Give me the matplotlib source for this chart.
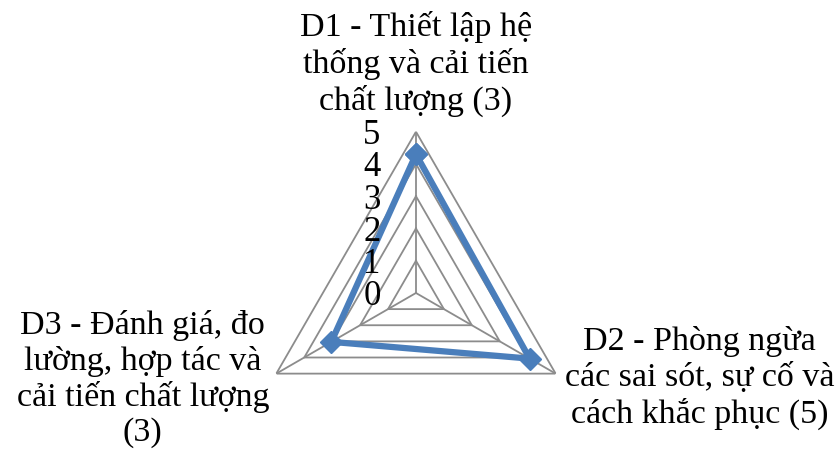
import numpy as np
import matplotlib
matplotlib.use("Agg")
import matplotlib.pyplot as plt
from matplotlib.transforms import offset_copy

plt.rcParams['font.family'] = ['Liberation Serif', 'DejaVu Serif']

# data
categories = ['D1 - Thiết lập hệ\nthống và cải tiến\nchất lượng (3)',
              'D2 - Phòng ngừa\ncác sai sót, sự cố và\ncách khắc phục (5)',
              'D3 - Đánh giá, đo\nlường, hợp tác và\ncải tiến chất lượng\n(3)']
values = [4.3, 4.07, 3.03]
ticks = [0, 1, 2, 3, 4, 5]

angles = np.deg2rad([0, 120, 240])

fig = plt.figure(figsize=(8.4, 4.56), dpi=100)
ax = fig.add_axes([0.3032, 0.0016, 0.384, 0.7074], projection='polar')
ax.set_theta_offset(np.pi / 2)
ax.set_theta_direction(-1)
ax.set_ylim(0, 5)
ax.grid(False)
ax.spines['polar'].set_visible(False)
ax.set_xticks([])
ax.set_yticks([])
ax.patch.set_alpha(0)

closed = np.append(angles, angles[0])
grid_col = '#8c8c8c'
for r in ticks[1:]:
    ax.plot(closed, [r] * 4, color=grid_col, lw=1.3, zorder=1)
for a in angles:
    ax.plot([a, a], [0, 5], color=grid_col, lw=1.3, zorder=1)

ax.plot(closed, values + values[:1], color='#4a7ebb', lw=4.5, marker='D',
        markersize=11, zorder=3, clip_on=False)

# radial tick labels
tr = offset_copy(ax.transData, fig=fig, x=-44, y=-3, units='dots')
for t in ticks:
    ax.text(0, t, str(t), transform=tr, ha='center', va='center', fontsize=25)

fs = 24.5
fig.text(0.495, 0.86, categories[0], ha='center', va='center', fontsize=fs,
         linespacing=1.2)
fig.text(0.833, 0.17, categories[1], ha='center', va='center', fontsize=fs,
         linespacing=1.2)
fig.text(0.170, 0.168, categories[2], ha='center', va='center', fontsize=fs,
         linespacing=1.18)

fig.savefig('out.png', dpi=100)
